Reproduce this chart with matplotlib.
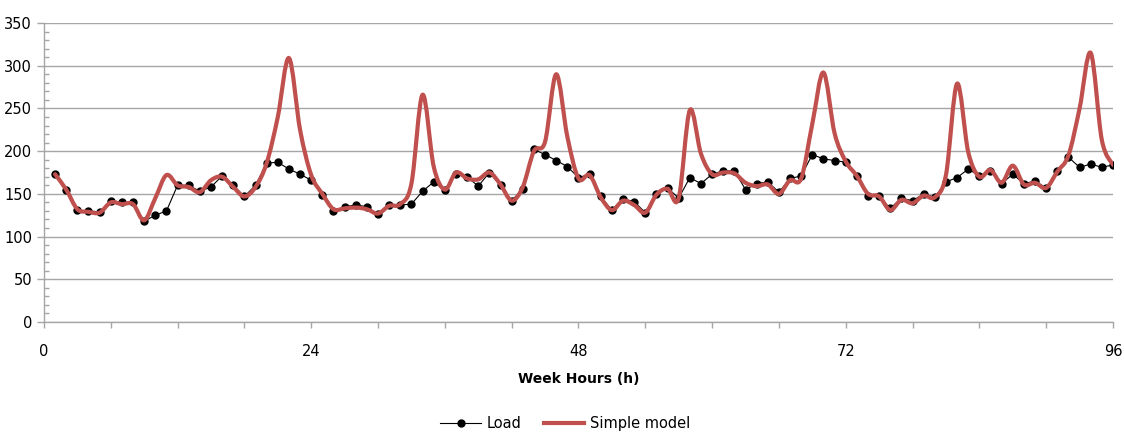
import matplotlib
matplotlib.use("Agg")
import matplotlib.pyplot as plt
import numpy as np
from matplotlib.path import Path
from matplotlib.patches import PathPatch
from matplotlib.lines import Line2D
from matplotlib.ticker import MultipleLocator

# ==========================================================
# DATA (one value per hour)
# ==========================================================

hours = list(range(1, 97))

load = [
    173, 154, 131, 130, 129, 142, 140, 140, 118, 125,
    130, 160, 160, 153, 158, 171, 160, 147, 160, 186,
    187, 179, 173, 166, 149, 130, 135, 137, 135, 126,
    137, 137, 138, 153, 164, 154, 173, 170, 159, 175,
    160, 142, 156, 202, 196, 189, 182, 169, 173, 147,
    131, 144, 141, 128, 150, 157, 145, 169, 162, 173,
    177, 177, 155, 162, 164, 152, 168, 171, 196, 191,
    189, 187, 171, 147, 147, 133, 145, 142, 150, 146,
    164, 169, 179, 171, 177, 162, 173, 162, 165, 157,
    177, 193, 181, 185, 181, 184,
]

model = [
    173, 155, 132, 129, 128, 140, 138, 138, 119, 145,
    172, 160, 158, 152, 166, 170, 158, 147, 158, 186,
    240, 309, 225, 172, 150, 132, 133, 134, 132, 127,
    136, 138, 162, 266, 182, 155, 175, 168, 167, 175,
    161, 142, 158, 200, 211, 290, 217, 168, 172, 146,
    131, 142, 137, 128, 149, 156, 145, 248, 197, 173,
    175, 174, 163, 159, 161, 150, 166, 168, 232, 292,
    221, 188, 171, 150, 147, 131, 143, 139, 148, 146,
    172, 279, 199, 170, 178, 163, 183, 161, 163, 157,
    176, 195, 250, 315, 213, 184,
]

grid_col = "#a6a6a6"
red = "#c0504d"

# ==========================================================
# SMOOTH LINE (Excel style bezier through every point)
# ==========================================================

def smooth_path(xs, ys):
    p = np.column_stack([xs, ys]).astype(float)
    n = len(p)
    verts = [p[0]]
    codes = [Path.MOVETO]
    for i in range(n - 1):
        p0 = p[i - 1] if i > 0 else p[i]
        p3 = p[i + 2] if i + 2 < n else p[i + 1]
        c1 = p[i] + (p[i + 1] - p0) / 6.0
        c2 = p[i + 1] - (p3 - p[i]) / 6.0
        verts += [c1, c2, p[i + 1]]
        codes += [Path.CURVE4] * 3
    return Path(verts, codes)

# ==========================================================
# FIGURE
# ==========================================================

fig = plt.figure(figsize=(11.24, 4.38), dpi=100)
ax = fig.add_axes([0.0391, 0.2648, 0.9511, 0.6827])

ax.plot(hours, load, color="black", lw=0.8, marker="o",
        markersize=5, markerfacecolor="black", markeredgecolor="black",
        zorder=3)

ax.add_patch(PathPatch(smooth_path(hours, model), fill=False,
                       edgecolor=red, lw=3.0, capstyle="round",
                       joinstyle="round", zorder=4))

ax.set_xlim(0, 96)
ax.set_ylim(0, 350)

ax.xaxis.set_major_locator(MultipleLocator(24))
ax.xaxis.set_minor_locator(MultipleLocator(6))
ax.yaxis.set_major_locator(MultipleLocator(50))
ax.yaxis.set_minor_locator(MultipleLocator(10))

ax.grid(axis="y", which="major", color=grid_col, lw=1.0)
ax.set_axisbelow(True)

for s in ["top", "right"]:
    ax.spines[s].set_visible(False)
for s in ["left", "bottom"]:
    ax.spines[s].set_color(grid_col)
    ax.spines[s].set_linewidth(1.0)

ax.tick_params(axis="x", which="both", direction="out", length=4.5,
               width=1, color=grid_col, pad=11, labelsize=10.5)
ax.tick_params(axis="y", which="major", direction="out", length=5,
               width=1, color=grid_col, pad=3.5, labelsize=10.5)
ax.tick_params(axis="y", which="minor", direction="in", length=3.6,
               width=1, color=grid_col)

ax.set_xlabel("Week Hours (h)", fontsize=10, fontweight="bold", labelpad=10)

handles = [
    Line2D([], [], color="black", lw=0.8, marker="o", markersize=5),
    Line2D([], [], color=red, lw=3.0),
]
fig.legend(handles, ["Load", "Simple model"], loc="center",
           bbox_to_anchor=(0.503, 0.034), ncol=2, frameon=False,
           fontsize=10.5, handlelength=2.8, handletextpad=0.4,
           columnspacing=1.5)

fig.savefig("out.png", dpi=100)
